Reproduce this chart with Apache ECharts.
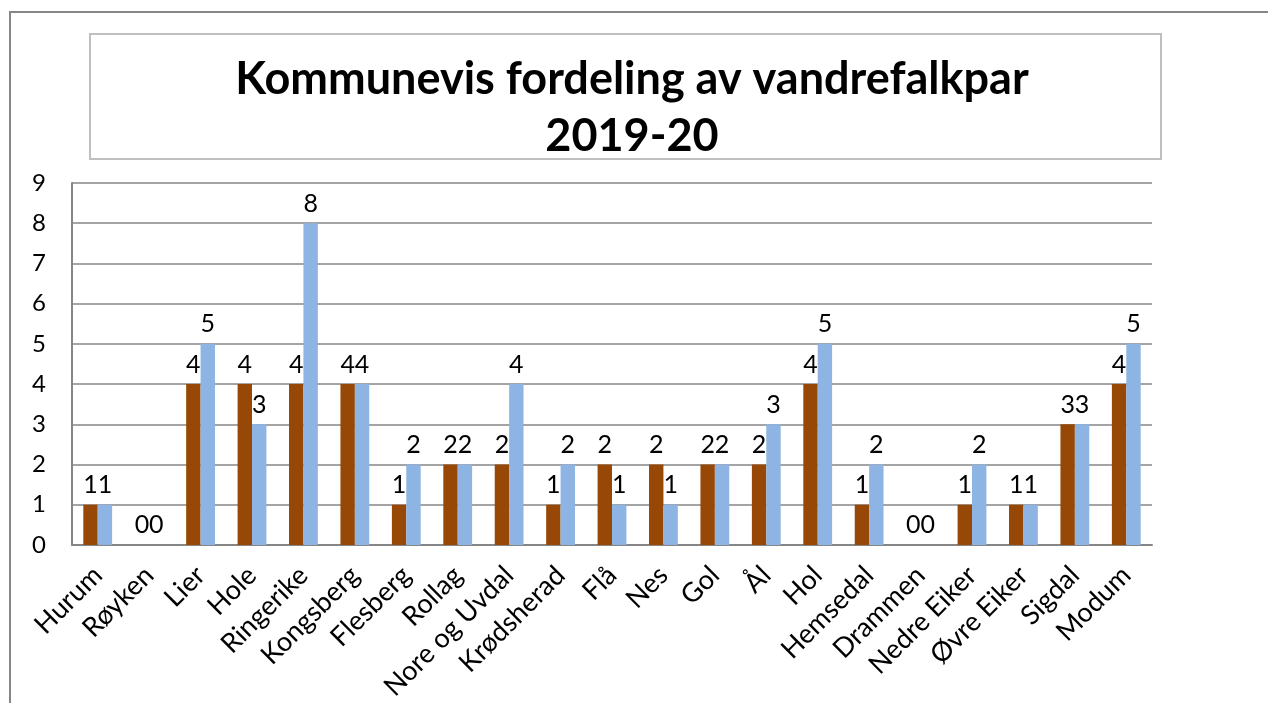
<!DOCTYPE html>
<html>
<head>
<meta charset="utf-8">
<script src="https://cdn.jsdelivr.net/npm/echarts@6/dist/echarts.min.js"></script>
<style>
  html, body { margin: 0; padding: 0; background: #fff; }
  #main { width: 1268px; height: 703px; }
</style>
</head>
<body>
<div id="main"></div>
<script>
var kommuner = ['Hurum', 'Røyken', 'Lier', 'Hole', 'Ringerike', 'Kongsberg', 'Flesberg', 'Rollag',
  'Nore og Uvdal', 'Krødsherad', 'Flå', 'Nes', 'Gol', 'Ål', 'Hol', 'Hemsedal', 'Drammen',
  'Nedre Eiker', 'Øvre Eiker', 'Sigdal', 'Modum'];
var par2019 = [1, 0, 4, 4, 4, 4, 1, 2, 2, 1, 2, 2, 2, 2, 4, 1, 0, 1, 1, 3, 4];
var par2020 = [1, 0, 5, 3, 8, 4, 2, 2, 4, 2, 1, 1, 2, 3, 5, 2, 0, 2, 1, 3, 5];

var font = 'Lato, "DejaVu Sans", sans-serif';
var myChart = echarts.init(document.getElementById('main'));

var lbl = {
  show: true,
  position: 'top',
  distance: 7,
  color: '#000',
  fontSize: 25,
  fontFamily: font
};

var option = {
  animation: false,
  title: {
    text: 'Kommunevis fordeling av vandrefalkpar\n2019-20',
    left: 627,
    top: 46,
    textAlign: 'center',
    textStyle: {
      fontFamily: font,
      fontSize: 45,
      fontWeight: 'bold',
      color: '#000',
      lineHeight: 57
    }
  },
  graphic: [
    {
      type: 'rect',
      shape: { x: 10, y: 12, width: 1300, height: 720 },
      style: { fill: 'none', stroke: '#868686', lineWidth: 2 },
      silent: true
    },
    {
      type: 'rect',
      shape: { x: 90, y: 34, width: 1071, height: 125 },
      style: { fill: 'none', stroke: '#BFBFBF', lineWidth: 2 },
      silent: true
    }
  ],
  grid: {
    left: 72,
    right: 116,
    top: 183,
    bottom: 157
  },
  xAxis: {
    type: 'category',
    data: kommuner,
    axisTick: { show: false },
    axisLine: { lineStyle: { color: '#868686', width: 2 } },
    axisLabel: {
      rotate: 45,
      interval: 0,
      margin: 26,
      color: '#000',
      fontSize: 27,
      fontFamily: font
    }
  },
  yAxis: {
    type: 'value',
    min: 0,
    max: 9,
    interval: 1,
    axisLine: { show: true, lineStyle: { color: '#868686', width: 2 } },
    axisTick: { show: false },
    splitLine: { lineStyle: { color: '#868686', width: 1.5 } },
    axisLabel: {
      margin: 26,
      color: '#000',
      fontSize: 24,
      fontFamily: font
    }
  },
  series: [
    {
      name: '2019',
      type: 'bar',
      data: par2019,
      barGap: '0%',
      barCategoryGap: '44%',
      itemStyle: { color: '#974706' },
      label: lbl
    },
    {
      name: '2020',
      type: 'bar',
      data: par2020,
      itemStyle: { color: '#8DB4E2' },
      label: lbl
    }
  ]
};
myChart.setOption(option);
</script>
</body>
</html>
